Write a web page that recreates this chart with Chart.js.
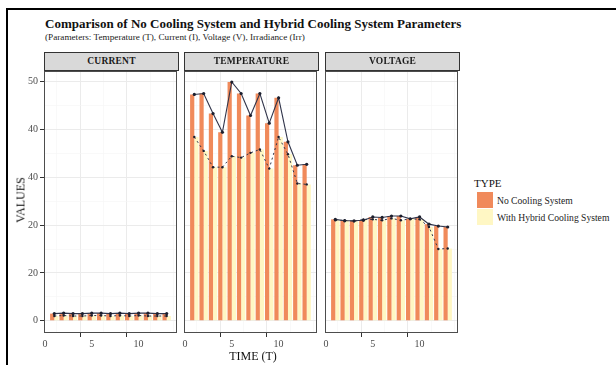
<!DOCTYPE html>
<html>
<head>
<meta charset="utf-8">
<script src="https://cdn.jsdelivr.net/npm/chart.js@4"></script>
<style>
  body { margin: 0; width: 616px; height: 365px; background: #fff; position: relative; overflow: hidden;
         font-family: "Liberation Serif", "DejaVu Serif", serif; }
  .abs { position: absolute; white-space: nowrap; }
  .strip { position: absolute; top: 52px; height: 19px; width: 135px; box-sizing: border-box;
           background: #d9d9d9; border: 1px solid #333; text-align: center; font-weight: bold;
           font-size: 9.5px; line-height: 17px; color: #1a1a1a; letter-spacing: 0.2px; }
  .panel { position: absolute; top: 61px; }
  .panel canvas { display: block; }
  .key { position: absolute; left: 477px; width: 16px; height: 16px; }
</style>
</head>
<body>
<div class="abs" style="left:6px;top:8px;right:-4px;bottom:-4px;border-left:2px solid #000;border-top:2px solid #000;"></div>

<div class="abs" style="left:45px;top:16px;font-size:13px;font-weight:bold;color:#111;">Comparison of No Cooling System and Hybrid Cooling System Parameters</div>
<div class="abs" style="left:45px;top:32px;font-size:9.2px;color:#222;">(Parameters: Temperature (T), Current (I), Voltage (V), Irradiance (Irr)</div>

<div class="panel" style="left:0px;"><canvas id="panel0" width="181" height="294"></canvas></div>
<div class="panel" style="left:140px;"><canvas id="panel1" width="181" height="294"></canvas></div>
<div class="panel" style="left:281px;"><canvas id="panel2" width="181" height="294"></canvas></div>

<div class="strip" style="left:44px;">CURRENT</div>
<div class="strip" style="left:184px;">TEMPERATURE</div>
<div class="strip" style="left:325px;">VOLTAGE</div>

<div class="abs" style="left:21px;top:200px;font-size:12px;color:#111;transform:translate(-50%,-50%) rotate(-90deg);">VALUES</div>
<div class="abs" style="left:253px;top:349px;font-size:12px;color:#111;transform:translateX(-50%);">TIME (T)</div>

<!-- legend -->
<div class="abs" style="left:474px;top:177px;font-size:11px;color:#111;">TYPE</div>
<div class="key" style="top:192px;background:#f08a5b;"></div>
<div class="key" style="top:209px;background:#fff7c4;"></div>
<div class="abs" style="left:497px;top:195px;font-size:9.6px;color:#222;">No Cooling System</div>
<div class="abs" style="left:497px;top:212px;font-size:9.6px;color:#222;">With Hybrid Cooling System</div>

<script>
// data
const time = [1, 2, 3, 4, 5, 6, 7, 8, 9, 10, 11, 12, 13];

const currentNoCooling = [1.5, 1.6, 1.5, 1.5, 1.6, 1.6, 1.5, 1.6, 1.5, 1.6, 1.6, 1.5, 1.5];
const currentHybrid    = [1.0, 1.1, 1.0, 1.0, 1.1, 1.1, 1.0, 1.1, 1.0, 1.1, 1.0, 1.0, 1.0];

const tempNoCooling = [47.3, 47.5, 43.3, 39.4, 49.9, 47.5, 42.9, 47.5, 41.3, 46.6, 37.4, 32.5, 32.7];
const tempHybrid    = [38.4, 35.5, 32.1, 32.1, 34.4, 34.1, 35.1, 35.8, 31.8, 38.4, 34.8, 28.7, 28.5];

const voltNoCooling = [21.2, 20.9, 20.9, 21.0, 21.7, 21.6, 21.9, 21.9, 21.3, 21.7, 20.2, 19.8, 19.6];
const voltHybrid    = [21.0, 21.0, 20.8, 21.2, 21.2, 21.0, 21.4, 21.0, 21.3, 21.2, 19.6, 15.0, 15.1];

// axis ticks as printed in the picture
const yTickValues = [0, 10, 20, 30, 40, 50];
const yTickLabels = ['0', '20', '20', '40', '40', '50'];
const yMinorValues = [5, 15, 25, 35, 45];
const xTickValues = [0, 5, 10];
const xMinorValues = [2.5, 7.5, 12.5];

const ORANGE = '#f08a5b';
const YELLOW = '#fff7c4';
const LINE = '#30344a';

function pts(ys) {
    return time.map((t, i) => ({ x: t, y: ys[i] }));
}

const isMajor = (list, c) => !!(c.tick && list.includes(c.tick.value));

// ggplot-like panel border
const panelBorder = {
    id: 'panelBorder',
    afterDraw(chart) {
        const a = chart.chartArea;
        const ctx = chart.ctx;
        ctx.save();
        ctx.strokeStyle = '#4d4d4d';
        ctx.lineWidth = 1;
        ctx.strokeRect(Math.round(a.left) + 0.5, Math.round(a.top) + 0.5,
                       Math.round(a.right - a.left) - 1, Math.round(a.bottom - a.top) - 1);
        ctx.restore();
    }
};

function makePanel(id, noCooling, hybrid, showY) {
    const ctx = document.getElementById(id).getContext('2d');
    return new Chart(ctx, {
        type: 'bar',
        data: {
            datasets: [
                { type: 'line', data: pts(noCooling), borderColor: LINE, borderWidth: 1.1,
                  pointRadius: 1.6, pointBackgroundColor: '#1c1f2e', pointBorderWidth: 0, order: 0 },
                { type: 'line', data: pts(hybrid), borderColor: LINE, borderWidth: 1, borderDash: [2, 3],
                  pointRadius: 1.2, pointBackgroundColor: '#1c1f2e', pointBorderWidth: 0, order: 0 },
                { type: 'bar', data: pts(noCooling), backgroundColor: ORANGE, borderWidth: 0,
                  categoryPercentage: 0.9, barPercentage: 1, order: 1 },
                { type: 'bar', data: pts(hybrid), backgroundColor: YELLOW, borderWidth: 0,
                  categoryPercentage: 0.9, barPercentage: 1, order: 1 }
            ]
        },
        options: {
            responsive: false,
            animation: false,
            devicePixelRatio: 1,
            layout: { padding: { top: 10, right: 2, left: 0, bottom: 0 } },
            plugins: { legend: { display: false }, tooltip: { enabled: false } },
            scales: {
                x: {
                    type: 'linear', min: -0.1, max: 14.1, offset: false,
                    afterBuildTicks: s => { s.ticks = xTickValues.concat(xMinorValues).sort((a, b) => a - b).map(v => ({ value: v })); },
                    afterFit: s => { s.height = 22; },
                    border: { display: false },
                    grid: {
                        color: c => isMajor(xTickValues, c) ? '#ebebeb' : '#f5f5f5',
                        lineWidth: c => isMajor(xTickValues, c) ? 1 : 0.6,
                        tickColor: c => isMajor(xTickValues, c) ? '#333' : 'rgba(0,0,0,0)',
                        tickLength: 4
                    },
                    ticks: {
                        autoSkip: false, maxRotation: 0, padding: 1, color: '#4d4d4d',
                        font: { family: 'Liberation Serif', size: 10 },
                        callback: v => xTickValues.includes(v) ? String(v) : ''
                    }
                },
                y: {
                    min: -2.55, max: 52.2,
                    afterBuildTicks: s => { s.ticks = yTickValues.concat(yMinorValues).sort((a, b) => a - b).map(v => ({ value: v })); },
                    afterFit: s => { s.width = 44; },
                    border: { display: false },
                    grid: {
                        color: c => isMajor(yTickValues, c) ? '#ebebeb' : '#f5f5f5',
                        lineWidth: c => isMajor(yTickValues, c) ? 1 : 0.6,
                        tickColor: c => (showY && isMajor(yTickValues, c)) ? '#333' : 'rgba(0,0,0,0)',
                        tickLength: 4
                    },
                    ticks: {
                        display: showY, autoSkip: false, padding: 2, color: '#4d4d4d',
                        font: { family: 'Liberation Serif', size: 10 },
                        callback: v => {
                            const i = yTickValues.indexOf(v);
                            return i >= 0 ? yTickLabels[i] : '';
                        }
                    }
                }
            }
        },
        plugins: [panelBorder]
    });
}

makePanel('panel0', currentNoCooling, currentHybrid, true);
makePanel('panel1', tempNoCooling, tempHybrid, false);
makePanel('panel2', voltNoCooling, voltHybrid, false);
</script>
</body>
</html>
